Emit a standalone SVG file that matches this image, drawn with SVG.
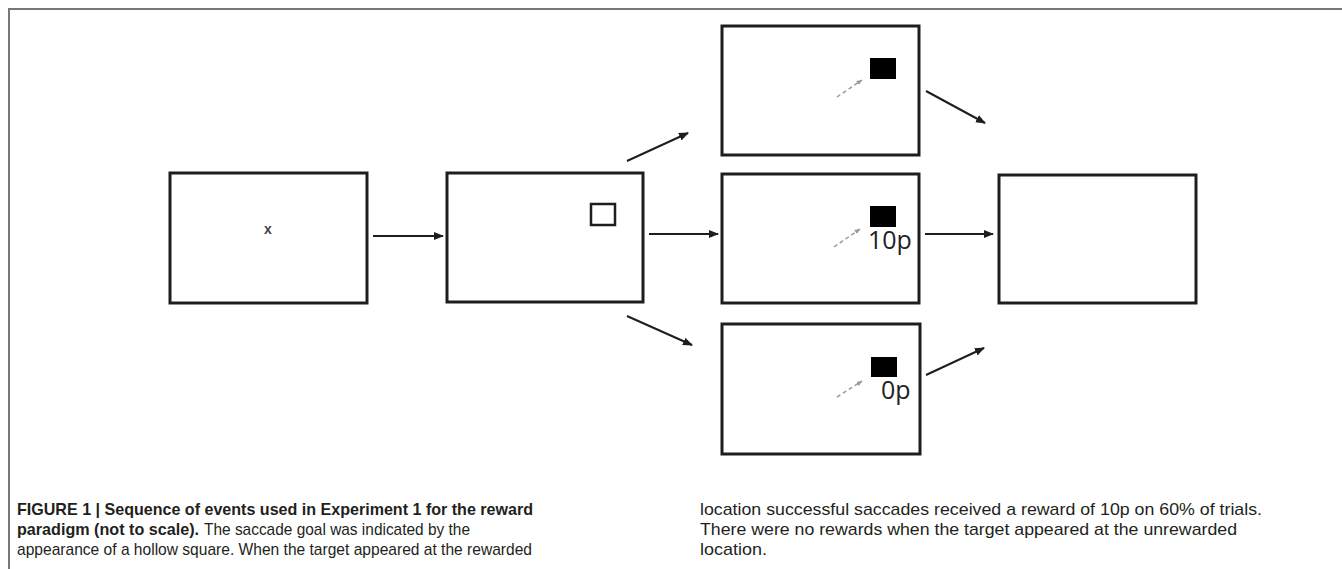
<svg xmlns="http://www.w3.org/2000/svg" width="1342" height="569" viewBox="0 0 1342 569">
<defs>
<style>
.box{fill:#fff;stroke:#1e1e1e;stroke-width:3}
.conn{stroke:#1e1e1e;stroke-width:2;fill:none}
.dash{stroke:#999;stroke-width:1.5;stroke-dasharray:4 3;fill:none}
.frame{stroke:#777;stroke-width:2;fill:none}
.cap{font-family:"Liberation Sans",Arial,sans-serif;font-size:17px;fill:#231f20}
.b{font-weight:bold}
.lbl{font-family:"Open Sans","Liberation Sans",sans-serif;font-size:25px;fill:#222}
</style>
<marker id="ah" viewBox="0 0 10 10" refX="9" refY="5" markerWidth="10" markerHeight="10" markerUnits="userSpaceOnUse" orient="auto">
<path d="M0,1 L10,5 L0,9 z" fill="#1e1e1e"/>
</marker>
<marker id="dh" viewBox="0 0 10 10" refX="9" refY="5" markerWidth="6" markerHeight="6" markerUnits="userSpaceOnUse" orient="auto">
<path d="M0,1 L10,5 L0,9 z" fill="#999"/>
</marker>
</defs>
<rect width="1342" height="569" fill="#fff"/>
<g id="frame">
<path class="frame" d="M9,569 L9,9 L1342,9"/>
</g>
<g id="fixation">
<rect class="box" x="170" y="173" width="197" height="130"/>
<text x="268" y="234" font-family="Liberation Sans,sans-serif" font-size="14" font-weight="bold" fill="#444" text-anchor="middle">x</text>
</g>
<g id="cue">
<rect class="box" x="447" y="173" width="196" height="129"/>
<rect x="591" y="204" width="24" height="21" fill="none" stroke="#1e1e1e" stroke-width="2.5"/>
</g>
<g id="target-top">
<rect class="box" x="722" y="26" width="197" height="129"/>
<rect x="870" y="58" width="26" height="21" fill="#000"/>
<path class="dash" d="M837,97 L862,80" marker-end="url(#dh)"/>
</g>
<g id="target-reward">
<rect class="box" x="722" y="174" width="197" height="129"/>
<rect x="870" y="206" width="26" height="21" fill="#000"/>
<path class="dash" d="M834,247 L860,229" marker-end="url(#dh)"/>
<text class="lbl" x="868" y="249">10p</text>
</g>
<g id="target-noreward">
<rect class="box" x="722" y="324" width="198" height="130"/>
<rect x="871" y="357" width="26" height="20" fill="#000"/>
<path class="dash" d="M837,397 L862,381" marker-end="url(#dh)"/>
<text class="lbl" x="881" y="399">0p</text>
</g>
<g id="blank">
<rect class="box" x="999" y="175" width="197" height="128"/>
</g>
<g id="connectors">
<path class="conn" d="M373,236 L443,236" marker-end="url(#ah)"/>
<path class="conn" d="M649,234 L718,234" marker-end="url(#ah)"/>
<path class="conn" d="M627,161 L688,133" marker-end="url(#ah)"/>
<path class="conn" d="M627,316 L692,345" marker-end="url(#ah)"/>
<path class="conn" d="M925,234 L993,234" marker-end="url(#ah)"/>
<path class="conn" d="M926,91 L985,123" marker-end="url(#ah)"/>
<path class="conn" d="M926,375 L984,348" marker-end="url(#ah)"/>
</g>
<g id="caption">
<text class="cap b" x="17" y="515" textLength="516" lengthAdjust="spacingAndGlyphs">FIGURE 1 | Sequence of events used in Experiment 1 for the reward</text>
<text class="cap b" x="17" y="535" textLength="182" lengthAdjust="spacingAndGlyphs">paradigm (not to scale).</text>
<text class="cap" x="204" y="535" textLength="266" lengthAdjust="spacingAndGlyphs">The saccade goal was indicated by the</text>
<text class="cap" x="17" y="555" textLength="515" lengthAdjust="spacingAndGlyphs">appearance of a hollow square. When the target appeared at the rewarded</text>
<text class="cap" x="700" y="515" textLength="562" lengthAdjust="spacingAndGlyphs">location successful saccades received a reward of 10p on 60% of trials.</text>
<text class="cap" x="700" y="535" textLength="537" lengthAdjust="spacingAndGlyphs">There were no rewards when the target appeared at the unrewarded</text>
<text class="cap" x="700" y="555" textLength="67" lengthAdjust="spacingAndGlyphs">location.</text>
</g>
</svg>
